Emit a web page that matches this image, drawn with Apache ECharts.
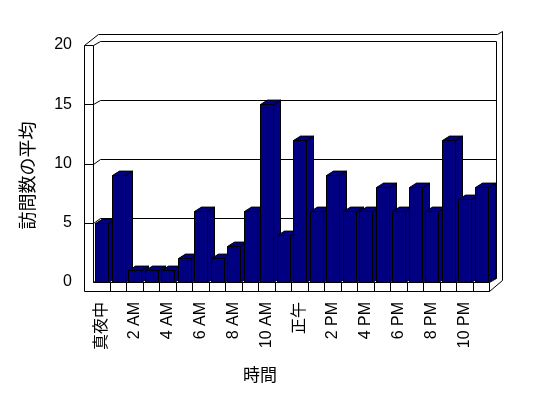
<!DOCTYPE html>
<html>
<head>
<meta charset="utf-8">
<script src="https://cdn.jsdelivr.net/npm/echarts@6/dist/echarts.min.js"></script>
<style>
html,body{margin:0;padding:0;background:#fff;}
#chart{width:548px;height:398px;}
</style>
</head>
<body>
<div id="chart"></div>
<script>
// ---- data ----
var categories = ['真夜中','1 AM','2 AM','3 AM','4 AM','5 AM','6 AM','7 AM','8 AM','9 AM','10 AM','11 AM',
                  '正午','1 PM','2 PM','3 PM','4 PM','5 PM','6 PM','7 PM','8 PM','9 PM','10 PM','11 PM'];
var visits = [5, 9, 1, 1, 1, 2, 6, 2, 3, 6, 15, 4, 12, 6, 9, 6, 6, 8, 6, 8, 6, 12, 7, 8];
var yTicks = [0, 5, 10, 15, 20];
var xTitle = '時間';
var yTitle = '訪問数の平均';

var FONT = "'Liberation Sans', 'Noto Sans CJK JP', sans-serif";
var DEPTH = [7, -4.4];   // oblique depth offset (front plane -> back wall)
var SLAB = 9;            // wall / floor thickness
function px(v){ return Math.round(v) + 0.5; }
function ln(x1,y1,x2,y2){
  return {type:'line', shape:{x1:px(x1),y1:px(y1),x2:px(x2),y2:px(y2)},
          style:{stroke:'#000', lineWidth:1}, silent:true};
}

function renderFrame(params, api){
  var cs = params.coordSys;
  var X0 = cs.x, X1 = cs.x + cs.width;
  var band = api.size([1,0])[0];
  var yBot = api.coord([0, yTicks[0]])[1];
  var yTop = api.coord([0, yTicks[yTicks.length-1]])[1];
  var dx = DEPTH[0], dy = DEPTH[1];
  var els = [];
  // left slab + floor front faces
  els.push(ln(X0-SLAB, yTop, X0-SLAB, yBot+SLAB));
  els.push(ln(X0-SLAB, yBot+SLAB, X1, yBot+SLAB));
  els.push(ln(X0, yTop, X0, yBot));
  els.push(ln(X0, yBot, X1, yBot));
  for (var i = 1; i <= categories.length; i++) {
    els.push(ln(X0 + i*band, yBot, X0 + i*band, yBot+SLAB));
  }
  // gridlines across left slab face, left wall and back wall
  yTicks.forEach(function(v){
    var y = api.coord([0, v])[1];
    if (v !== yTicks[0]) els.push(ln(X0-SLAB, y, X0, y));
    els.push(ln(X0, y, X0+dx, y+dy));
    els.push(ln(X0+dx, y+dy, X1+dx, y+dy));
  });
  // back wall right edge, floor right edge
  els.push(ln(X1+dx, yTop+dy, X1+dx, yBot+dy));
  els.push(ln(X1, yBot, X1+dx, yBot+dy));
  // outer box
  els.push(ln(X0-SLAB, yTop, X0-SLAB+2*dx, yTop+2.4*dy));
  els.push(ln(X0-SLAB+2*dx, yTop+2.4*dy, X1+dx+1, yTop+2.4*dy));
  els.push(ln(X1+dx+1, yTop+2.4*dy, X1+2*dx-1, yTop+3.1*dy));
  els.push(ln(X1+2*dx-1, yTop+3.1*dy, X1+2*dx-1, yBot-0.3*dx));
  els.push(ln(X1+2*dx-1, yBot-0.3*dx, X1, yBot+SLAB));
  return {type:'group', children: els};
}

function renderBar(params, api){
  var i = api.value(0), v = api.value(1);
  var band = api.size([1,0])[0];
  var top = api.coord([i, v]);
  var base = api.coord([i, 0]);
  var w = Math.round(band * 0.8);
  var x0 = Math.round(top[0] - w/2 + 0.4) + 0.5;
  var y1 = Math.round(top[1]) + 0.5;
  var yb = Math.round(base[1]) + 0.5;
  var dx = DEPTH[0], dy = DEPTH[1];
  var st = {fill:'#000080', stroke:'#000', lineWidth:1};
  return {type:'group', children:[
    {type:'polygon', shape:{points:[[x0+w,y1],[x0+w+dx,y1+dy],[x0+w+dx,yb+dy],[x0+w,yb]]}, style:st},
    {type:'polygon', shape:{points:[[x0,y1],[x0+dx,y1+dy],[x0+w+dx,y1+dy],[x0+w,y1]]}, style:st},
    {type:'rect', shape:{x:x0, y:y1, width:w, height:yb-y1}, style:st}
  ]};
}

var chart = echarts.init(document.getElementById('chart'), null, {renderer:'canvas'});
chart.setOption({
  animation:false,
  backgroundColor:'#fff',
  grid:{left:93, top:45, width:396, height:237},
  xAxis:{
    type:'category', data:categories,
    axisLine:{show:false}, axisTick:{show:false}, splitLine:{show:false},
    axisLabel:{interval:1, rotate:90, margin:20, color:'#000', fontSize:16, fontFamily:FONT},
    name:xTitle, nameLocation:'middle', nameGap:86,
    nameTextStyle:{color:'#000', fontSize:17, fontFamily:FONT, padding:[0,62,0,0]}
  },
  yAxis:{
    type:'value', min:yTicks[0], max:yTicks[yTicks.length-1], interval:5,
    axisLine:{show:false}, axisTick:{show:false}, splitLine:{show:false},
    axisLabel:{margin:21, color:'#000', fontSize:16, fontFamily:FONT},
    name:yTitle, nameLocation:'middle', nameGap:55,
    nameTextStyle:{color:'#000', fontSize:18, fontFamily:FONT, padding:[0,24,0,0]}
  },
  series:[
    {type:'custom', renderItem:renderFrame, data:[[0,0]], z:1, silent:true},
    {type:'custom', renderItem:renderBar, data:visits.map(function(v,i){return [i,v];}),
     encode:{x:0,y:1}, z:2, silent:true}
  ]
});
</script>
</body>
</html>
